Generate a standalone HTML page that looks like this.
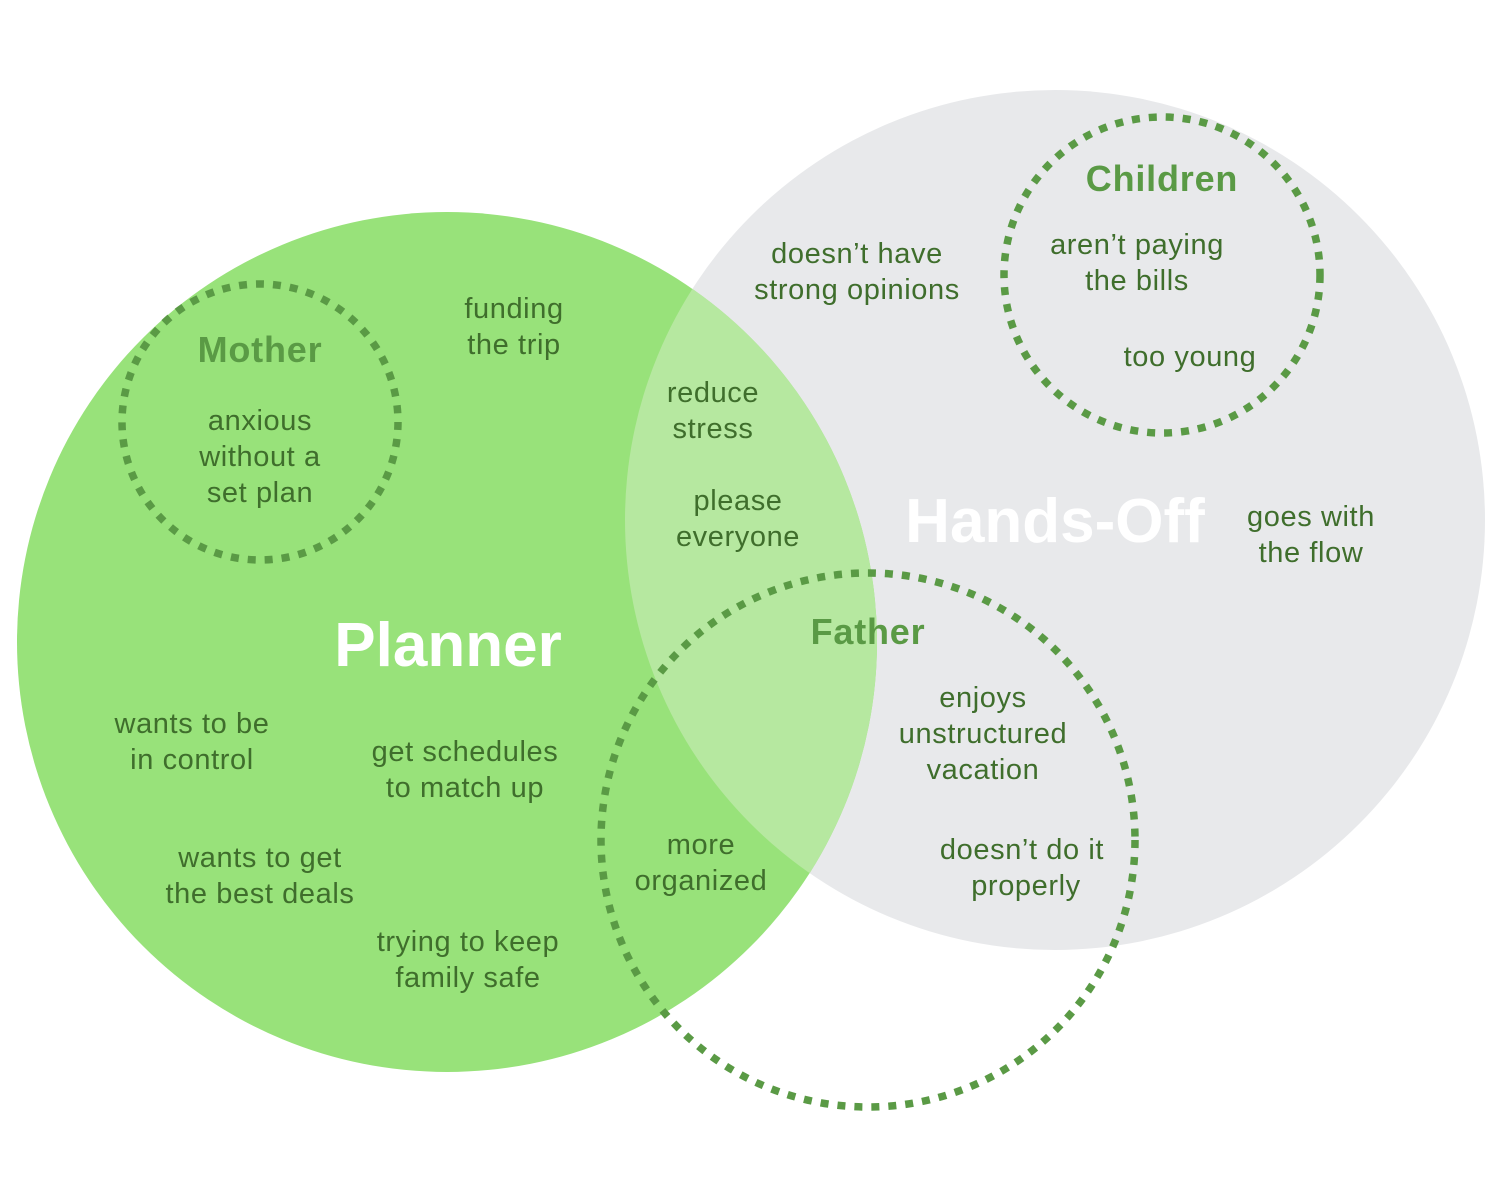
<!DOCTYPE html>
<html><head><style>
html,body{margin:0;padding:0;background:#fff;}
svg{display:block;}
text{font-family:"Liberation Sans",sans-serif;}
.t{fill:#3f6e2c;font-size:29px;letter-spacing:0.6px;text-anchor:middle;}
.h{fill:#5a9a45;font-size:36px;font-weight:bold;letter-spacing:0.8px;text-anchor:middle;}
.big{fill:#fff;font-size:62px;font-weight:bold;text-anchor:middle;}
.d{fill:none;stroke:#5a9a45;stroke-width:7.5;stroke-dasharray:8 9;}
</style></head><body>
<svg width="1500" height="1200" viewBox="0 0 1500 1200">
<defs><clipPath id="g"><circle cx="447" cy="642" r="430"/></clipPath></defs>
<circle cx="1055" cy="520" r="430" fill="#e8e9eb"/>
<circle cx="447" cy="642" r="430" fill="#98e27a"/>
<circle cx="1055" cy="520" r="430" fill="#b6e8a0" clip-path="url(#g)"/>
<circle class="d" cx="260" cy="422" r="138"/>
<circle class="d" cx="1162" cy="275" r="158"/>
<circle class="d" cx="868" cy="840" r="267"/>
<text class="big" x="448" y="666">Planner</text>
<text class="big" x="1055" y="542">Hands-Off</text>
<text class="h" x="260" y="362">Mother</text>
<text class="h" x="1162" y="191">Children</text>
<text class="h" x="868" y="644">Father</text>
<text class="t"><tspan x="260" y="430">anxious</tspan><tspan x="260" y="466">without a</tspan><tspan x="260" y="502">set plan</tspan></text>
<text class="t"><tspan x="514" y="318">funding</tspan><tspan x="514" y="354">the trip</tspan></text>
<text class="t"><tspan x="713" y="402">reduce</tspan><tspan x="713" y="438">stress</tspan></text>
<text class="t"><tspan x="738" y="510">please</tspan><tspan x="738" y="546">everyone</tspan></text>
<text class="t"><tspan x="857" y="263">doesn’t have</tspan><tspan x="857" y="299">strong opinions</tspan></text>
<text class="t"><tspan x="1137" y="254">aren’t paying</tspan><tspan x="1137" y="290">the bills</tspan></text>
<text class="t" x="1190" y="366">too young</text>
<text class="t"><tspan x="1311" y="526">goes with</tspan><tspan x="1311" y="562">the flow</tspan></text>
<text class="t"><tspan x="192" y="733">wants to be</tspan><tspan x="192" y="769">in control</tspan></text>
<text class="t"><tspan x="465" y="761">get schedules</tspan><tspan x="465" y="797">to match up</tspan></text>
<text class="t"><tspan x="260" y="867">wants to get</tspan><tspan x="260" y="903">the best deals</tspan></text>
<text class="t"><tspan x="468" y="951">trying to keep</tspan><tspan x="468" y="987">family safe</tspan></text>
<text class="t"><tspan x="701" y="854">more</tspan><tspan x="701" y="890">organized</tspan></text>
<text class="t"><tspan x="983" y="707">enjoys</tspan><tspan x="983" y="743">unstructured</tspan><tspan x="983" y="779">vacation</tspan></text>
<text class="t"><tspan x="1022" y="859">doesn’t do it</tspan><tspan x="1026" y="895">properly</tspan></text>
</svg>
</body></html>
